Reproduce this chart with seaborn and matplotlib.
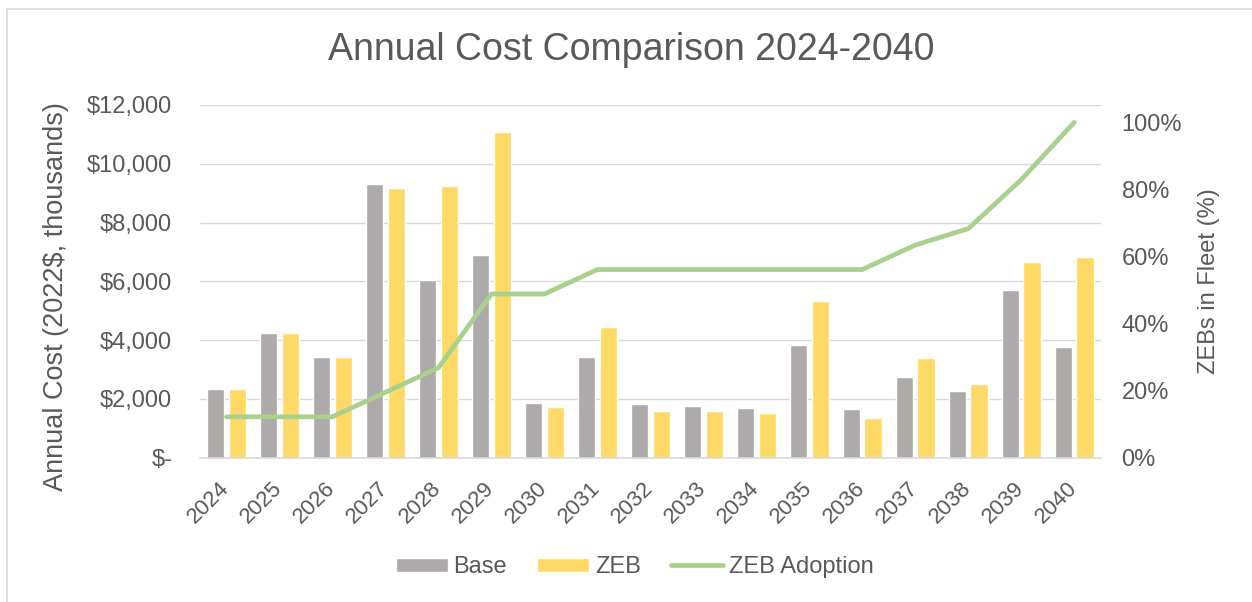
import numpy as np
import pandas as pd
import seaborn as sns
import matplotlib.pyplot as plt
from matplotlib.ticker import FuncFormatter, PercentFormatter
from matplotlib.lines import Line2D
from matplotlib.patches import Patch

# values (thousands of 2022$)
years = ["2024", "2025", "2026", "2027", "2028", "2029", "2030", "2031", "2032",
         "2033", "2034", "2035", "2036", "2037", "2038", "2039", "2040"]
base_cost = [2340, 4230, 3430, 9320, 6060, 6910, 1860, 3420, 1830,
             1770, 1690, 3820, 1650, 2750, 2270, 5700, 3770]
zeb_cost = [2340, 4230, 3430, 9160, 9260, 11080, 1720, 4460, 1590,
            1590, 1510, 5340, 1360, 3380, 2510, 6650, 6840]
zeb_share = [0.122, 0.122, 0.122, 0.195, 0.268, 0.488, 0.488, 0.561, 0.561,
             0.561, 0.561, 0.561, 0.561, 0.634, 0.683, 0.829, 1.0]

GREY = "#AEAAAA"
GOLD = "#FFD966"
GREEN = "#A9D18E"
TXT = "#595959"
GRID = "#D9D9D9"

sns.set_style("white")
plt.rcParams['font.family'] = ['Liberation Sans', 'DejaVu Sans']

df = pd.DataFrame({
    "Year": years * 2,
    "Scenario": ["Base"] * len(years) + ["ZEB"] * len(years),
    "Cost": base_cost + zeb_cost,
})

fig = plt.figure(figsize=(12.52, 6.02), dpi=100)
ax = fig.add_axes([0.1597, 0.2397, 0.8792 - 0.1597, 0.8256 - 0.2397])

sns.barplot(data=df, x="Year", y="Cost", hue="Scenario",
            palette={"Base": GREY, "ZEB": GOLD}, saturation=1,
            width=0.825, gap=0.2, legend=False, ax=ax, zorder=2)

ax.set_axisbelow(True)
ax.grid(axis="y", color=GRID, lw=1)
ax.set_xlim(-0.5, len(years) - 0.5)
ax.set_ylim(0, 12000)
ax.set_yticks(np.arange(0, 12001, 2000))
ax.yaxis.set_major_formatter(FuncFormatter(lambda v, p: "$-" if v == 0 else f"${v:,.0f}"))
ax.set_xlabel("")
ax.set_ylabel("Annual Cost (2022$, thousands)", fontsize=19.5, color=TXT)
ax.yaxis.set_label_coords(-0.1599, 0.457)
ax.yaxis.label.set_va("center")
for s in ["top", "left", "right"]:
    ax.spines[s].set_visible(False)
ax.spines["bottom"].set_color(GRID)
ax.spines["bottom"].set_linewidth(1.2)
ax.tick_params(axis="y", length=0, pad=20, labelsize=17, colors=TXT)
ax.tick_params(axis="x", length=0, pad=20, labelsize=16, colors=TXT)
for lbl in ax.get_xticklabels():
    lbl.set_rotation(45)
    lbl.set_ha("right")
    lbl.set_va("center")
    lbl.set_rotation_mode("anchor")

ax2 = ax.twinx()
sns.lineplot(x=np.arange(len(years)), y=zeb_share, ax=ax2, color=GREEN, lw=3.4,
             solid_capstyle="round", solid_joinstyle="round")
ax2.set_ylim(0, 1.0516)
ax2.set_yticks([0, 0.2, 0.4, 0.6, 0.8, 1.0])
ax2.yaxis.set_major_formatter(PercentFormatter(1.0, decimals=0))
ax2.tick_params(axis="y", length=0, pad=15, labelsize=17, colors=TXT)
ax2.set_ylabel("ZEBs in Fleet (%)", fontsize=17, color=TXT)
ax2.yaxis.set_label_coords(1.1197, 0.502)
ax2.yaxis.label.set_va("center")
for s in ax2.spines.values():
    s.set_visible(False)

fig.text(631.5 / 1252, 1 - 50 / 602, "Annual Cost Comparison 2024-2040",
         ha="center", va="center", fontsize=27, color=TXT)

handles = [Patch(fc=GREY), Patch(fc=GOLD),
           Line2D([], [], color=GREEN, lw=3.4, solid_capstyle="round")]
fig.legend(handles, ["Base", "ZEB", "ZEB Adoption"], loc="center",
           bbox_to_anchor=(634.5 / 1252, 1 - 567 / 602), ncol=3, frameon=False,
           fontsize=17, handlelength=2.2, handleheight=0.55, handletextpad=0.25,
           columnspacing=1.27, labelcolor=TXT)

# chart border (left and top edges visible in the reference)
fig.add_artist(Line2D([7 / 1252, 7 / 1252], [0, 1 - 9 / 602], transform=fig.transFigure,
                      color=GRID, lw=1.2))
fig.add_artist(Line2D([7 / 1252, 1], [1 - 9 / 602, 1 - 9 / 602], transform=fig.transFigure,
                      color=GRID, lw=1.2))

fig.savefig("out.png", dpi=100)
